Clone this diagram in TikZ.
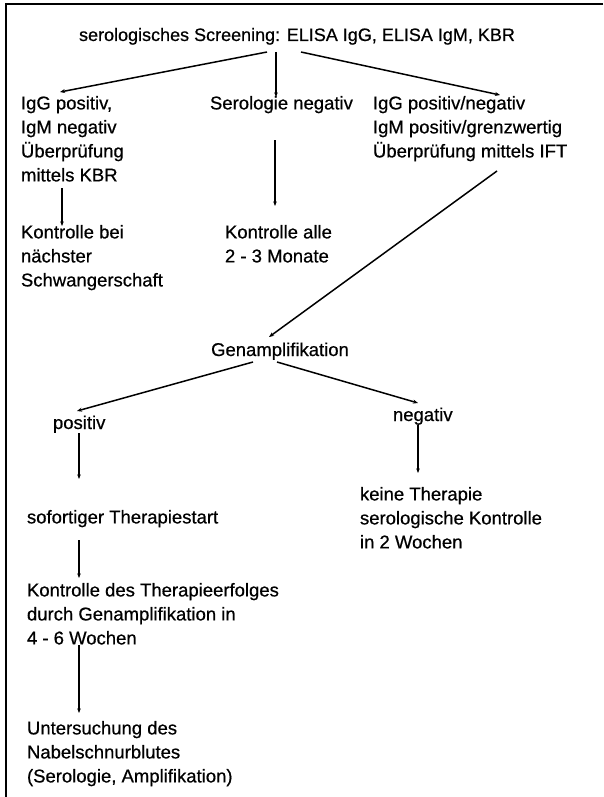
\documentclass[tikz,border=0pt]{standalone}
\usepackage{fontspec}
\setmainfont{Liberation Sans}
\newfontfamily\scanfont{Liberation Sans}[FakeBold=0.6]
\usetikzlibrary{calc,arrows.meta}
\begin{document}
\begin{tikzpicture}[x=1pt,y=-1pt,
  txt/.style={inner sep=0pt,outer sep=0pt,align=left,font=\scanfont\fontsize{18.5}{24}\selectfont},
  ttl/.style={txt,font=\scanfont\fontsize{18}{24}\selectfont},
  arr/.style={line width=1.1pt,-{Stealth[length=4.5pt,width=3.5pt]}},
  darr/.style={line width=1.5pt,-{Stealth[length=5pt,width=4pt]}},
  frame/.style={line width=1.5pt}]
\useasboundingbox (0,0) rectangle (603,797);
\draw[frame] (603,4) -- (6,4) -- (6,797);

\node[ttl,anchor=base] (title) at (297,41) {serologisches Screening: ELISA IgG, ELISA IgM, KBR};

\node[txt,anchor=north west] (L1) at (21,96) {IgG positiv,\\IgM negativ\\Überprüfung\\mittels KBR};
\node[txt,anchor=north west] (M1) at (210,96) {Serologie negativ};
\node[txt,anchor=north west] (R1) at (373,96) {IgG positiv/negativ\\IgM positiv/grenzwertig\\Überprüfung mittels IFT};

\node[txt,anchor=north west] (L2) at (21,225) {Kontrolle bei\\nächster\\Schwangerschaft};
\node[txt,anchor=north west] (M2) at (225,225) {Kontrolle alle\\2 - 3 Monate};

\node[txt,anchor=base] (G) at (280,356) {Genamplifikation};

\node[txt,anchor=base west] (P) at (53,429) {positiv};
\node[txt,anchor=base west] (N) at (393,421) {negativ};

\node[txt,anchor=north west] (S) at (27,510) {sofortiger Therapiestart};
\node[txt,anchor=north west] (K) at (360,487) {keine Therapie\\serologische Kontrolle\\in 2 Wochen};
\node[txt,anchor=north west] (KT) at (27,583) {Kontrolle des Therapieerfolges\\durch Genamplifikation in\\4 - 6 Wochen};
\node[txt,anchor=north west] (U) at (27,721) {Untersuchung des\\Nabelschnurblutes\\(Serologie, Amplifikation)};

% connectors
\draw[darr] ($(title.base)+(-30,11)$) -- ($(L1.north west)+(39,-4)$);
\draw[arr]  ($(title.base)+(-21,11)$) -- ($(M1.north west)+(66,1)$);
\draw[darr] ($(title.base)+(4,11)$) -- ($(R1.north west)+(127,-1)$);
\draw[arr]  ($(L1.north west)+(41,92)$) -- ($(L2.north west)+(41,1)$);
\draw[arr]  ($(M1.north west)+(65,44)$) -- ($(M2.north west)+(50,-19)$);
\draw[darr] ($(R1.north west)+(124,75)$) -- ($(G.base)+(-11,-19)$);
\draw[darr] ($(G.base)+(-27,6)$) -- ($(P.base west)+(24,-18)$);
\draw[darr] ($(G.base)+(-3,6)$) -- ($(N.base west)+(25,-18)$);
\draw[arr]  ($(P.base west)+(26,4)$) -- ($(S.north west)+(52,-31)$);
\draw[arr]  ($(N.base west)+(25,4)$) -- ($(K.north west)+(58,-14)$);
\draw[arr]  ($(S.north west)+(52,30)$) -- ($(KT.north west)+(52,-5)$);
\draw[arr]  ($(KT.north west)+(52,62)$) -- ($(U.north west)+(52,-8)$);
\end{tikzpicture}
\end{document}
